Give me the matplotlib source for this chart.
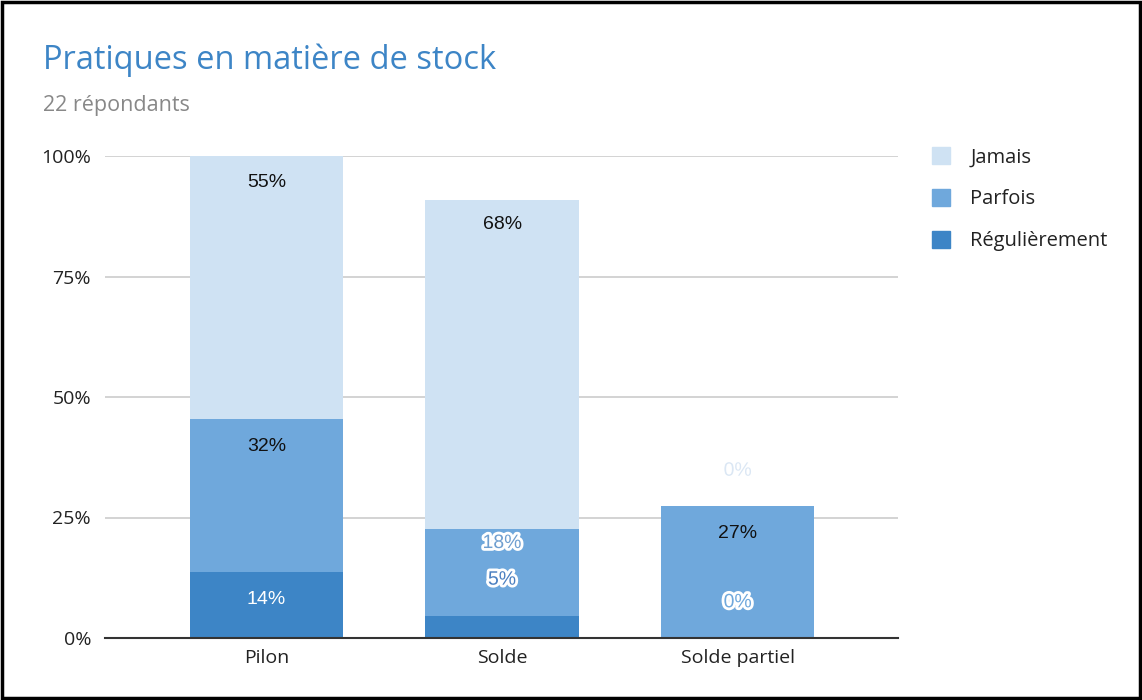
import matplotlib
matplotlib.use("Agg")
import matplotlib.pyplot as plt
import matplotlib.patheffects as pe
from matplotlib.patches import Rectangle
import numpy as np

categories = ["Pilon", "Solde", "Solde partiel"]
series_names = ["Régulièrement", "Parfois", "Jamais"]
regulierement = [13.6, 4.5, 0.0]
parfois = [31.8, 18.2, 27.3]
jamais = [54.6, 68.2, 0.0]
labels_reg = ["14%", "5%", "0%"]
labels_par = ["32%", "18%", "27%"]
labels_jam = ["55%", "68%", "0%"]
yticks = [0, 25, 50, 75, 100]
ytick_labels = ["0%", "25%", "50%", "75%", "100%"]

colors = {"Régulièrement": "#3d85c6", "Parfois": "#6fa8dc", "Jamais": "#cfe2f3"}
FONT = "Open Sans"
LBL_FONT = ["Liberation Sans", "DejaVu Sans"]
plt.rcParams["font.family"] = [FONT, "DejaVu Sans"]

fig = plt.figure(figsize=(11.42, 7.0), dpi=100)
ax = fig.add_axes([105/1142, 62/700, (898-105)/1142, (638-156)/700])

x = np.arange(len(categories))
w = 0.65
series = [regulierement, parfois, jamais]
bottom = np.zeros(len(categories))
bars = {}
for name, vals in zip(series_names, series):
    vals = np.array(vals)
    ax.bar(x, vals, w, bottom=bottom, color=colors[name], zorder=3, linewidth=0)
    bars[name] = (bottom.copy(), vals)
    bottom = bottom + vals

ax.set_xlim(-0.685, 2.68)
ax.set_ylim(0, 100)
ax.set_yticks(yticks)
ax.set_yticklabels(ytick_labels)
ax.yaxis.grid(True, color="#cccccc", linewidth=1.2, zorder=0)
ax.set_axisbelow(True)
for s in ["top", "right", "left"]:
    ax.spines[s].set_visible(False)
ax.spines["bottom"].set_color("#333333")
ax.spines["bottom"].set_linewidth(1.5)
ax.spines["bottom"].set_zorder(4)
ax.tick_params(axis="both", length=0, labelsize=14, colors="#222222")
ax.tick_params(axis="y", pad=10)
ax.tick_params(axis="x", pad=8)
ax.set_xticks(x)
ax.set_xticklabels(categories)

offset = 5.6
FS = 14
plain_black = dict(ha="center", va="center", fontsize=FS, color="#111111", zorder=5, family=LBL_FONT)
outlined = [pe.withStroke(linewidth=4, foreground="white")]

# Pilon
b, v = bars["Jamais"]
ax.text(x[0], b[0] + v[0] - offset, labels_jam[0], **plain_black)
b, v = bars["Parfois"]
ax.text(x[0], b[0] + v[0] - offset, labels_par[0], **plain_black)
b, v = bars["Régulièrement"]
ax.text(x[0], b[0] + v[0] - offset, labels_reg[0], ha="center", va="center",
        fontsize=FS, color="white", zorder=5, family=LBL_FONT)
# Solde
b, v = bars["Jamais"]
ax.text(x[1], b[1] + v[1] - offset + 0.5, labels_jam[1], **plain_black)
b, v = bars["Parfois"]
ax.text(x[1], b[1] + v[1] - 3.1, labels_par[1], ha="center", va="center", fontsize=FS,
        color="#6f9fd0", zorder=5, path_effects=outlined, family=LBL_FONT)
b, v = bars["Régulièrement"]
ax.text(x[1], b[1] + v[1] + 7.5, labels_reg[1], ha="center", va="center", fontsize=FS,
        color="#4a7fc0", zorder=5, path_effects=outlined, family=LBL_FONT)
# Solde partiel
b, v = bars["Parfois"]
ax.text(x[2], b[2] + v[2] - offset, labels_par[2], **plain_black)
b, v = bars["Régulièrement"]
ax.text(x[2], b[2] + v[2] + 7.3, labels_reg[2], ha="center", va="center", fontsize=FS,
        color="#6fa8dc", zorder=5, path_effects=outlined, family=LBL_FONT)
b, v = bars["Jamais"]
ax.text(x[2], b[2] + v[2] + 7.3, labels_jam[2], ha="center", va="center", fontsize=FS,
        color="#dbe7f4", zorder=5, path_effects=outlined, family=LBL_FONT)

# Title and subtitle
fig.text(43/1142, 1 - 60/700, "Pratiques en matière de stock", fontsize=23.5,
         color="#3d85c6", va="center", ha="left")
fig.text(43/1142, 1 - 106/700, "22 répondants", fontsize=15.5,
         color="#888888", va="center", ha="left")

# Legend
handles = [Rectangle((0, 0), 1, 1, color=colors[n]) for n in ["Jamais", "Parfois", "Régulièrement"]]
leg = fig.legend(handles, ["Jamais", "Parfois", "Régulièrement"], loc="upper left",
                 bbox_to_anchor=(924/1142, 1 - 139/700), frameon=False, fontsize=14.5,
                 handlelength=0.9, handleheight=0.9, labelspacing=1.08, handletextpad=1.0,
                 borderaxespad=0)
for t in leg.get_texts():
    t.set_color("#222222")

# Border
fig.patches.append(Rectangle((0.002, 0.003), 0.996, 0.994, transform=fig.transFigure,
                             fill=False, edgecolor="black", linewidth=2.5))

fig.savefig("out.png", dpi=100, facecolor="white")
